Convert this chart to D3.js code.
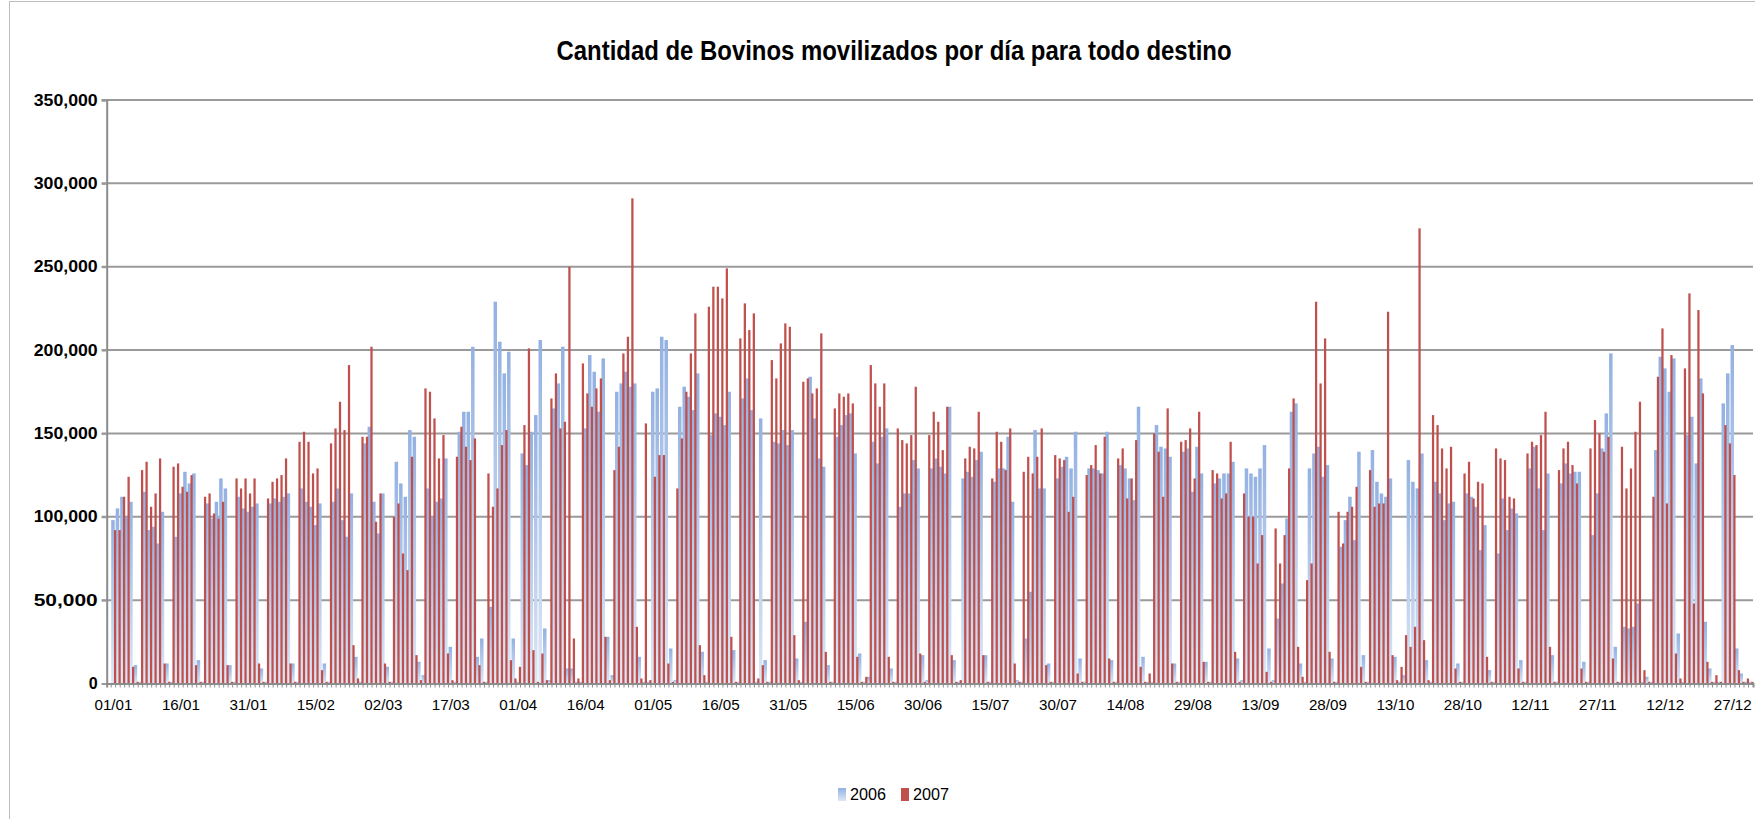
<!DOCTYPE html>
<html>
<head>
<meta charset="utf-8">
<script src="https://cdn.jsdelivr.net/npm/d3@7"></script>
<style>
  body { margin: 0; background: #fff; }
  svg { display: block; }
  text { font-family: "Liberation Sans Narrow", "Arial Narrow", "Liberation Sans", Arial, sans-serif; fill: #000; }
</style>
</head>
<body>
<svg id="chart" width="1755" height="819"></svg>
<script>
var w = 1755;
var h = 819;

// cattle moved per day, thousands of head
var v2006 = [98,105,112,100,109,11,1,115,92,94,84,103,12,1,88,114,127,120,126,14,1,108,99,109,123,117,11,1,
  112,105,103,106,108,9,1,108,111,109,112,114,12,1,117,109,106,95,108,12,1,109,117,98,88,114,16,1,
  144,154,109,90,114,10,1,133,120,112,152,148,13,5,117,100,109,111,135,22,1,151,163,163,202,16,27,1,
  46,229,205,186,199,27,1,138,131,151,161,206,33,2,165,180,202,9,9,1,1,153,197,187,163,195,28,5,
  175,180,187,178,180,16,1,1,175,177,208,206,21,2,166,178,172,164,186,19,1,149,162,160,155,175,20,1,
  171,183,164,1,159,14,1,145,144,152,143,152,15,1,37,184,159,135,130,11,1,148,155,161,162,138,18,1,
  4,145,132,148,153,9,1,106,114,114,134,129,17,2,129,135,130,126,166,14,1,123,127,124,134,139,17,1,
  121,129,129,148,109,2,1,27,55,152,117,117,12,1,123,130,136,129,151,15,1,129,129,128,126,151,14,1,
  131,129,123,110,166,16,1,1,155,142,141,136,12,1,139,141,115,142,126,13,1,120,123,126,126,133,15,2,
  129,126,124,129,143,21,2,39,60,99,163,168,12,1,129,138,142,124,131,15,1,82,98,112,86,139,17,1,
  140,121,114,112,123,16,1,5,134,121,117,138,14,1,121,114,98,108,109,12,1,114,112,106,80,95,8,1,
  78,111,92,105,102,14,1,129,142,117,92,126,17,1,120,132,126,127,127,13,1,89,114,141,162,198,22,1,
  34,33,34,48,1,4,1,140,196,189,175,195,30,1,149,160,132,183,37,9,1,1,168,186,203,21,6,1,1];

var v2007 = [92,92,112,124,10,1,128,133,106,114,135,12,1,130,132,118,115,125,11,1,112,114,102,99,109,11,1,
  123,117,123,114,123,12,1,111,121,123,125,135,12,1,145,151,145,126,129,8,1,144,153,169,152,191,23,3,
  148,148,202,97,114,12,1,100,108,78,68,136,17,2,177,175,159,135,149,18,2,136,154,142,134,147,11,1,
  126,106,117,143,152,14,3,10,155,201,20,1,18,2,171,186,153,157,250,27,3,192,174,166,177,183,28,2,
  128,142,198,208,291,34,3,156,2,124,137,137,12,1,117,147,175,198,222,23,5,226,238,238,231,249,28,1,
  207,228,212,222,3,11,1,194,183,204,216,214,29,2,181,183,174,177,210,19,1,165,174,172,174,168,16,1,
  4,191,180,166,180,16,1,153,146,144,149,178,18,1,149,163,157,140,166,17,1,2,135,142,141,163,17,1,
  123,151,145,128,153,12,1,127,136,126,136,153,11,1,137,135,134,103,112,6,1,125,131,143,126,148,15,1,
  135,141,111,123,146,10,1,6,150,139,112,165,12,1,145,146,153,123,163,13,1,128,126,111,114,145,19,1,
  114,100,100,72,89,7,1,93,72,89,129,171,22,4,62,72,229,180,207,19,1,103,84,103,106,118,10,1,
  128,106,108,108,223,17,2,10,29,22,34,273,26,2,161,155,141,129,142,9,1,126,133,111,121,120,16,1,
  141,135,134,112,111,9,1,138,145,143,149,163,22,1,128,141,145,131,120,9,1,141,158,150,139,148,15,1,
  142,117,129,151,169,8,1,112,184,213,108,197,18,3,189,234,48,224,174,13,1,5,1,155,144,125,8,1,3,1];

var yTicks = [0, 50000, 100000, 150000, 200000, 250000, 300000, 350000];
var xTickLabels = ["01/01","16/01","31/01","15/02","02/03","17/03","01/04","16/04","01/05","16/05",
  "31/05","15/06","30/06","15/07","30/07","14/08","29/08","13/09","28/09","13/10","28/10","12/11",
  "27/11","12/12","27/12"];
var seriesNames = ["2006", "2007"];

var fmt = d3.timeFormat("%d/%m");
var days = d3.timeDays(new Date(2007, 0, 1), new Date(2008, 0, 1)).map(fmt);

var plotLeft = 106.7, plotRight = 1753, plotTop = 100, plotBottom = 683.5;

var svg = d3.select("#chart");

var defs = svg.append("defs");
var grad = defs.append("linearGradient").attr("id", "blueFade")
  .attr("x1", 0).attr("y1", 0).attr("x2", 0).attr("y2", 1);
grad.append("stop").attr("offset", "0%").attr("stop-color", "#93b1e2");
grad.append("stop").attr("offset", "100%").attr("stop-color", "#dde7f5");

// chart frame
svg.append("rect")
  .attr("x", 9.5).attr("y", 1.5)
  .attr("width", w + 20).attr("height", h + 20)
  .attr("fill", "none").attr("stroke", "#bcbcbc").attr("stroke-width", 1);

var x = d3.scaleBand()
  .domain(days)
  .range([plotLeft, plotRight])
  .paddingInner(0)
  .paddingOuter(0.5)
  .align(1);

var y = d3.scaleLinear()
  .domain([0, 350000])
  .range([plotBottom, plotTop]);

var bw = x.bandwidth();

// gridlines
svg.append("g").selectAll("line")
  .data(yTicks.filter(function(t){ return t > 0; }))
  .enter().append("line")
  .attr("x1", plotLeft - 5).attr("x2", plotRight)
  .attr("y1", function(d){ return y(d); })
  .attr("y2", function(d){ return y(d); })
  .attr("stroke", "#9a9a9a").attr("stroke-width", 2);

var g06 = svg.append("g");
g06.selectAll("rect")
  .data(v2006.map(function(v, i){ return {day: days[i], value: v * 1000}; }))
  .enter().append("rect")
  .attr("x", function(d){ return x(d.day); })
  .attr("width", bw * 0.78)
  .attr("y", function(d){ return y(d.value); })
  .attr("height", function(d){ return y(0) - y(d.value); })
  .attr("fill", "url(#blueFade)");

var g07 = svg.append("g");
g07.selectAll("rect")
  .data(v2007.map(function(v, i){ return {day: days[i], value: v * 1000}; }))
  .enter().append("rect")
  .attr("x", function(d){ return x(d.day) + bw * 0.62; })
  .attr("width", bw * 0.5)
  .attr("y", function(d){ return y(d.value); })
  .attr("height", function(d){ return y(0) - y(d.value); })
  .attr("fill", "#c0504d");

// y axis
var yAxis = d3.axisLeft(y)
  .tickValues(yTicks)
  .tickSize(5)
  .tickPadding(4)
  .tickFormat(d3.format(",.0f"));
var ya = svg.append("g")
  .attr("transform", "translate(" + plotLeft + ",0)")
  .call(yAxis);
ya.select(".domain").attr("stroke", "#8c8c8c").attr("stroke-width", 2);
ya.selectAll(".tick line").attr("stroke", "#9a9a9a").attr("stroke-width", 2);
ya.selectAll("text")
  .attr("font-size", 16).attr("font-weight", "bold")
  .filter(function(d){ return d > 0; })
  .attr("textLength", 64).attr("lengthAdjust", "spacingAndGlyphs");

// x axis: a tick for every day, a label every 15 days
var xAxis = d3.axisBottom(x)
  .tickSize(4)
  .tickPadding(12)
  .tickFormat(function(d){ return xTickLabels.indexOf(d) >= 0 ? d : ""; });
var xa = svg.append("g")
  .attr("transform", "translate(0," + plotBottom + ")")
  .call(xAxis);
xa.select(".domain").attr("stroke", "#8c8c8c").attr("stroke-width", 2);
xa.selectAll(".tick line")
  .attr("transform", "translate(" + (-bw / 2) + ",0)")
  .attr("stroke", "#8c8c8c").attr("stroke-width", 1);
xa.selectAll(".tick text")
  .attr("font-size", 15)
  .filter(function(d){ return xTickLabels.indexOf(d) >= 0; })
  .attr("textLength", 38).attr("lengthAdjust", "spacingAndGlyphs");

// title
svg.append("text")
  .attr("x", 894).attr("y", 60)
  .attr("text-anchor", "middle")
  .attr("font-size", 27).attr("font-weight", "bold")
  .attr("textLength", 675).attr("lengthAdjust", "spacingAndGlyphs")
  .text("Cantidad de Bovinos movilizados por día para todo destino");

// legend
var legend = svg.append("g").attr("transform", "translate(838,788)");
var lg = legend.selectAll("g")
  .data(seriesNames)
  .enter().append("g")
  .attr("transform", function(d, i){ return "translate(" + (i * 63) + ",0)"; });
lg.append("rect")
  .attr("width", 8).attr("height", 13)
  .attr("fill", function(d, i){ return i === 0 ? "url(#blueFade)" : "#c0504d"; });
lg.append("text")
  .attr("x", 12).attr("y", 12)
  .attr("font-size", 16)
  .attr("textLength", 36).attr("lengthAdjust", "spacingAndGlyphs")
  .text(function(d){ return d; });
</script>
</body>
</html>
